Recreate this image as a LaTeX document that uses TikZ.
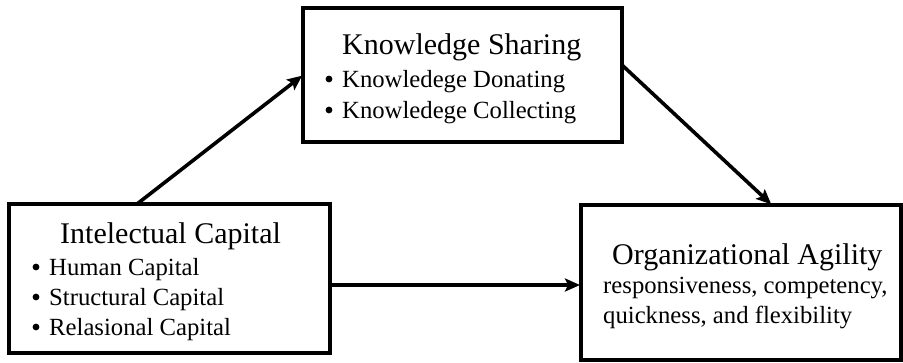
\documentclass[tikz,border=0pt]{standalone}
\usepackage{fontspec}
\setmainfont{Liberation Serif}
\usetikzlibrary{arrows.meta}
\tikzset{
  boxnode/.style={draw=black, line width=4pt, rectangle, inner sep=0pt, outer sep=0pt, fill=white},
  titletext/.style={anchor=base west, inner sep=0pt, font=\fontsize{30}{36}\selectfont},
  itemtext/.style={anchor=base west, inner sep=0pt, font=\fontsize{24.7}{30}\selectfont},
  bulletdot/.style={fill=black},
  conn/.style={line width=3.6pt, shorten >=1pt, -{Stealth[length=15pt,width=13pt,inset=3pt]}}
}
\begin{document}
\begin{tikzpicture}[x=1pt,y=-1pt]
\useasboundingbox[fill=white] (0,0) rectangle (903,362);
% boxes
\node[boxnode, minimum width=319pt, minimum height=134pt] (ks) at (462.5,75) {};
\node[boxnode, minimum width=321pt, minimum height=149pt] (ic) at (169.5,278.5) {};
\node[boxnode, minimum width=320pt, minimum height=155pt] (oa) at (741,282.5) {};
% Knowledge Sharing texts
\node[titletext] (kst) at (342,54) {Knowledge Sharing};
\fill[bulletdot] (329,79) circle (3.4);
\node[itemtext] (ks1) at (342,87) {Knowledege Donating};
\fill[bulletdot] (329,110) circle (3.4);
\node[itemtext] (ks2) at (342,118) {Knowledege Collecting};
% Intellectual Capital texts
\node[titletext] (ict) at (60,243) {Intelectual Capital};
\fill[bulletdot] (36,267) circle (3.4);
\node[itemtext] (ic1) at (49,275) {Human Capital};
\fill[bulletdot] (36,297) circle (3.4);
\node[itemtext] (ic2) at (49,305) {Structural Capital};
\fill[bulletdot] (36,327) circle (3.4);
\node[itemtext] (ic3) at (49,335) {Relasional Capital};
% Organizational Agility texts
\node[titletext] (oat) at (612,264) {Organizational Agility};
\node[itemtext] (oa1) at (603,293) {responsiveness, competency,};
\node[itemtext] (oa2) at (603,323) {quickness, and flexibility};
% connectors
\draw[conn] ([xshift=-32.5pt]ic.north) -- (ks.west);
\draw[conn] ([yshift=10pt]ks.east) -- ([xshift=31pt]oa.north);
\draw[conn] ([yshift=-6.5pt]ic.east) -- ([yshift=-2.5pt]oa.west);
\end{tikzpicture}
\end{document}
